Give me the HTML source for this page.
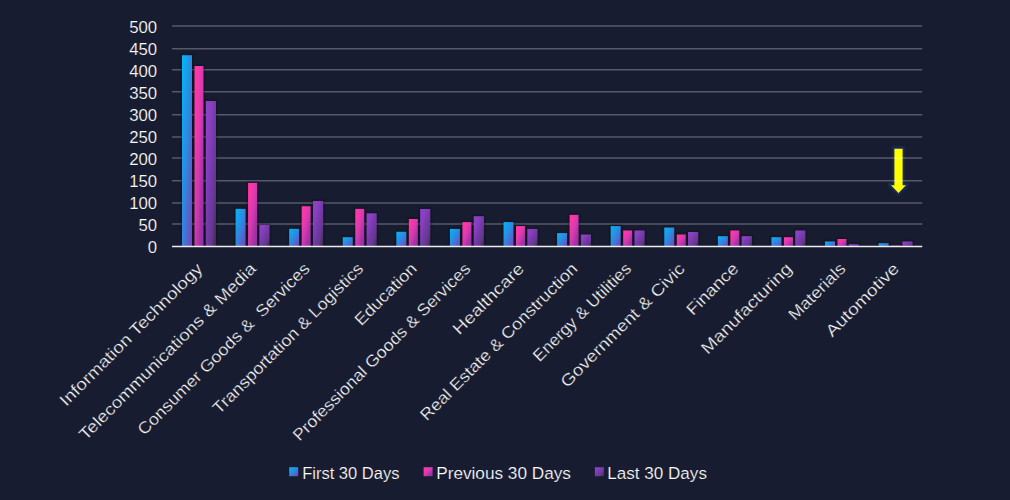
<!DOCTYPE html>
<html><head><meta charset="utf-8"><style>
html,body{margin:0;padding:0;background:#181c30;width:1010px;height:500px;overflow:hidden;font-family:"Liberation Sans",sans-serif;}
</style></head><body>
<svg width="1010" height="500" viewBox="0 0 1010 500" style="position:absolute;left:0;top:0"><defs><linearGradient id="g0" x1="0" y1="0" x2="1" y2="1"><stop offset="0" stop-color="#00b8f8"/><stop offset="0.25" stop-color="#16a0ec"/><stop offset="0.5" stop-color="#3086e0"/><stop offset="0.75" stop-color="#5464cc"/><stop offset="1" stop-color="#7a40c0"/></linearGradient><linearGradient id="g1" x1="0" y1="0" x2="1" y2="1"><stop offset="0" stop-color="#ff38a8"/><stop offset="0.25" stop-color="#f638aa"/><stop offset="0.5" stop-color="#d43ab0"/><stop offset="0.75" stop-color="#a832a6"/><stop offset="1" stop-color="#8c30a8"/></linearGradient><linearGradient id="g2" x1="0" y1="0" x2="1" y2="1"><stop offset="0" stop-color="#8c42c8"/><stop offset="0.25" stop-color="#8a40c0"/><stop offset="0.5" stop-color="#763aac"/><stop offset="0.75" stop-color="#64388e"/><stop offset="1" stop-color="#3a2c50"/></linearGradient><filter id="sh" x="-20%" y="-20%" width="140%" height="140%"><feGaussianBlur stdDeviation="0.9"/></filter></defs><rect width="1010" height="500" fill="#181c30"/><path d="M894.4,148.8 H902.6 V185.3 H905.9 L898.5,193 L891.1,185.3 H894.4 Z" fill="none" stroke="#1d3a70" stroke-opacity="0.4" stroke-width="5" stroke-miterlimit="10" filter="url(#sh)"/><path d="M894.4,148.8 H902.6 V185.3 H905.9 L898.5,193 L891.1,185.3 H894.4 Z" fill="#ffff00" stroke="#1a2f5e" stroke-width="2.6" stroke-miterlimit="10" style="paint-order:stroke"/><line x1="172.0" x2="922.2" y1="224.00" y2="224.00" stroke="#ffffff" stroke-opacity="0.27" stroke-width="1.4"/><line x1="172.0" x2="922.2" y1="203.00" y2="203.00" stroke="#ffffff" stroke-opacity="0.27" stroke-width="1.4"/><line x1="172.0" x2="922.2" y1="180.70" y2="180.70" stroke="#ffffff" stroke-opacity="0.27" stroke-width="1.4"/><line x1="172.0" x2="922.2" y1="158.00" y2="158.00" stroke="#ffffff" stroke-opacity="0.27" stroke-width="1.4"/><line x1="172.0" x2="922.2" y1="137.00" y2="137.00" stroke="#ffffff" stroke-opacity="0.27" stroke-width="1.4"/><line x1="172.0" x2="922.2" y1="114.70" y2="114.70" stroke="#ffffff" stroke-opacity="0.27" stroke-width="1.4"/><line x1="172.0" x2="922.2" y1="91.80" y2="91.80" stroke="#ffffff" stroke-opacity="0.27" stroke-width="1.4"/><line x1="172.0" x2="922.2" y1="69.70" y2="69.70" stroke="#ffffff" stroke-opacity="0.27" stroke-width="1.4"/><line x1="172.0" x2="922.2" y1="48.70" y2="48.70" stroke="#ffffff" stroke-opacity="0.27" stroke-width="1.4"/><line x1="172.0" x2="922.2" y1="26.00" y2="26.00" stroke="#ffffff" stroke-opacity="0.27" stroke-width="1.4"/><text x="157.2" y="253.20" text-anchor="end" font-family="Liberation Sans" font-size="16.8" fill="#ffffff" stroke="#181c30" stroke-width="0.2">0</text><text x="157.2" y="231.19" text-anchor="end" font-family="Liberation Sans" font-size="16.8" fill="#ffffff" stroke="#181c30" stroke-width="0.2">50</text><text x="157.2" y="209.17" text-anchor="end" font-family="Liberation Sans" font-size="16.8" fill="#ffffff" stroke="#181c30" stroke-width="0.2">100</text><text x="157.2" y="187.15" text-anchor="end" font-family="Liberation Sans" font-size="16.8" fill="#ffffff" stroke="#181c30" stroke-width="0.2">150</text><text x="157.2" y="165.14" text-anchor="end" font-family="Liberation Sans" font-size="16.8" fill="#ffffff" stroke="#181c30" stroke-width="0.2">200</text><text x="157.2" y="143.12" text-anchor="end" font-family="Liberation Sans" font-size="16.8" fill="#ffffff" stroke="#181c30" stroke-width="0.2">250</text><text x="157.2" y="121.11" text-anchor="end" font-family="Liberation Sans" font-size="16.8" fill="#ffffff" stroke="#181c30" stroke-width="0.2">300</text><text x="157.2" y="99.09" text-anchor="end" font-family="Liberation Sans" font-size="16.8" fill="#ffffff" stroke="#181c30" stroke-width="0.2">350</text><text x="157.2" y="77.08" text-anchor="end" font-family="Liberation Sans" font-size="16.8" fill="#ffffff" stroke="#181c30" stroke-width="0.2">400</text><text x="157.2" y="55.06" text-anchor="end" font-family="Liberation Sans" font-size="16.8" fill="#ffffff" stroke="#181c30" stroke-width="0.2">450</text><text x="157.2" y="33.05" text-anchor="end" font-family="Liberation Sans" font-size="16.8" fill="#ffffff" stroke="#181c30" stroke-width="0.2">500</text><g fill="#05070d" fill-opacity="0.32" filter="url(#sh)"><rect x="180.79" y="54.01" width="12.4" height="192.29"/><rect x="193.29" y="64.80" width="11.4" height="181.50"/><rect x="204.59" y="99.80" width="12.6" height="146.50"/><rect x="234.38" y="207.67" width="12.4" height="38.63"/><rect x="246.88" y="181.70" width="11.4" height="64.60"/><rect x="258.18" y="223.70" width="12.6" height="22.60"/><rect x="287.96" y="227.62" width="12.4" height="18.68"/><rect x="300.46" y="205.03" width="11.4" height="41.27"/><rect x="311.76" y="199.75" width="12.6" height="46.55"/><rect x="341.55" y="235.99" width="12.4" height="10.31"/><rect x="354.05" y="207.67" width="11.4" height="38.63"/><rect x="365.35" y="212.08" width="12.6" height="34.22"/><rect x="395.14" y="230.57" width="12.4" height="15.73"/><rect x="407.64" y="217.80" width="11.4" height="28.50"/><rect x="418.94" y="207.76" width="12.6" height="38.54"/><rect x="448.72" y="227.71" width="12.4" height="18.59"/><rect x="461.22" y="220.88" width="11.4" height="25.42"/><rect x="472.52" y="214.98" width="12.6" height="31.32"/><rect x="502.31" y="220.88" width="12.4" height="25.42"/><rect x="514.81" y="224.85" width="11.4" height="21.45"/><rect x="526.11" y="227.71" width="12.6" height="18.59"/><rect x="555.89" y="231.89" width="12.4" height="14.41"/><rect x="568.39" y="213.66" width="11.4" height="32.64"/><rect x="579.69" y="233.30" width="12.6" height="13.00"/><rect x="609.48" y="224.89" width="12.4" height="21.41"/><rect x="621.98" y="229.25" width="11.4" height="17.05"/><rect x="633.28" y="229.25" width="12.6" height="17.05"/><rect x="663.06" y="226.30" width="12.4" height="20.00"/><rect x="675.56" y="233.30" width="11.4" height="13.00"/><rect x="686.86" y="230.79" width="12.6" height="15.51"/><rect x="716.65" y="234.97" width="12.4" height="11.33"/><rect x="729.15" y="229.25" width="11.4" height="17.05"/><rect x="740.45" y="234.97" width="12.6" height="11.33"/><rect x="770.24" y="235.99" width="12.4" height="10.31"/><rect x="782.74" y="235.99" width="11.4" height="10.31"/><rect x="794.04" y="229.25" width="12.6" height="17.05"/><rect x="823.82" y="240.26" width="12.4" height="6.04"/><rect x="836.32" y="237.79" width="11.4" height="8.51"/><rect x="847.62" y="242.99" width="12.6" height="3.31"/><rect x="877.41" y="242.02" width="12.4" height="4.28"/><rect x="889.91" y="244.44" width="11.4" height="1.86"/><rect x="901.21" y="240.26" width="12.6" height="6.04"/></g><rect x="181.99" y="55.21" width="10.0" height="191.09" fill="url(#g0)"/><rect x="194.49" y="66.00" width="9.0" height="180.30" fill="url(#g1)"/><rect x="205.79" y="101.00" width="10.2" height="145.30" fill="url(#g2)"/><rect x="235.58" y="208.87" width="10.0" height="37.43" fill="url(#g0)"/><rect x="248.08" y="182.90" width="9.0" height="63.40" fill="url(#g1)"/><rect x="259.38" y="224.90" width="10.2" height="21.40" fill="url(#g2)"/><rect x="289.16" y="228.82" width="10.0" height="17.48" fill="url(#g0)"/><rect x="301.66" y="206.23" width="9.0" height="40.07" fill="url(#g1)"/><rect x="312.96" y="200.95" width="10.2" height="45.35" fill="url(#g2)"/><rect x="342.75" y="237.19" width="10.0" height="9.11" fill="url(#g0)"/><rect x="355.25" y="208.87" width="9.0" height="37.43" fill="url(#g1)"/><rect x="366.55" y="213.28" width="10.2" height="33.02" fill="url(#g2)"/><rect x="396.34" y="231.77" width="10.0" height="14.53" fill="url(#g0)"/><rect x="408.84" y="219.00" width="9.0" height="27.30" fill="url(#g1)"/><rect x="420.14" y="208.96" width="10.2" height="37.34" fill="url(#g2)"/><rect x="449.92" y="228.91" width="10.0" height="17.39" fill="url(#g0)"/><rect x="462.42" y="222.08" width="9.0" height="24.22" fill="url(#g1)"/><rect x="473.72" y="216.18" width="10.2" height="30.12" fill="url(#g2)"/><rect x="503.51" y="222.08" width="10.0" height="24.22" fill="url(#g0)"/><rect x="516.01" y="226.05" width="9.0" height="20.25" fill="url(#g1)"/><rect x="527.31" y="228.91" width="10.2" height="17.39" fill="url(#g2)"/><rect x="557.09" y="233.09" width="10.0" height="13.21" fill="url(#g0)"/><rect x="569.59" y="214.86" width="9.0" height="31.44" fill="url(#g1)"/><rect x="580.89" y="234.50" width="10.2" height="11.80" fill="url(#g2)"/><rect x="610.68" y="226.09" width="10.0" height="20.21" fill="url(#g0)"/><rect x="623.18" y="230.45" width="9.0" height="15.85" fill="url(#g1)"/><rect x="634.48" y="230.45" width="10.2" height="15.85" fill="url(#g2)"/><rect x="664.26" y="227.50" width="10.0" height="18.80" fill="url(#g0)"/><rect x="676.76" y="234.50" width="9.0" height="11.80" fill="url(#g1)"/><rect x="688.06" y="231.99" width="10.2" height="14.31" fill="url(#g2)"/><rect x="717.85" y="236.17" width="10.0" height="10.13" fill="url(#g0)"/><rect x="730.35" y="230.45" width="9.0" height="15.85" fill="url(#g1)"/><rect x="741.65" y="236.17" width="10.2" height="10.13" fill="url(#g2)"/><rect x="771.44" y="237.19" width="10.0" height="9.11" fill="url(#g0)"/><rect x="783.94" y="237.19" width="9.0" height="9.11" fill="url(#g1)"/><rect x="795.24" y="230.45" width="10.2" height="15.85" fill="url(#g2)"/><rect x="825.02" y="241.46" width="10.0" height="4.84" fill="url(#g0)"/><rect x="837.52" y="238.99" width="9.0" height="7.31" fill="url(#g1)"/><rect x="848.82" y="244.19" width="10.2" height="2.11" fill="url(#g2)"/><rect x="878.61" y="243.22" width="10.0" height="3.08" fill="url(#g0)"/><rect x="891.11" y="245.64" width="9.0" height="0.66" fill="url(#g1)"/><rect x="902.41" y="241.46" width="10.2" height="4.84" fill="url(#g2)"/><line x1="172.0" x2="922.2" y1="246.50" y2="246.50" stroke="#eeeeee" stroke-width="1.6"/><g transform="translate(199.29,265.5) rotate(-45) scale(1.14,1)"><text x="0" y="6" text-anchor="end" font-family="Liberation Sans" font-size="16.5" fill="#ffffff" stroke="#181c30" stroke-width="0.3" style="white-space:pre">Information Technology</text></g><g transform="translate(252.88,265.5) rotate(-45) scale(1.13,1)"><text x="0" y="6" text-anchor="end" font-family="Liberation Sans" font-size="16.5" fill="#ffffff" stroke="#181c30" stroke-width="0.3" style="white-space:pre">Telecommunications &amp; Media</text></g><g transform="translate(306.46,265.5) rotate(-45) scale(1.083,1)"><text x="0" y="6" text-anchor="end" font-family="Liberation Sans" font-size="16.5" fill="#ffffff" stroke="#181c30" stroke-width="0.3" style="white-space:pre">Consumer Goods &amp;  Services</text></g><g transform="translate(360.05,265.5) rotate(-45) scale(1.08,1)"><text x="0" y="6" text-anchor="end" font-family="Liberation Sans" font-size="16.5" fill="#ffffff" stroke="#181c30" stroke-width="0.3" style="white-space:pre">Transportation &amp; Logistics</text></g><g transform="translate(413.64,265.5) rotate(-45) scale(1.094,1)"><text x="0" y="6" text-anchor="end" font-family="Liberation Sans" font-size="16.5" fill="#ffffff" stroke="#181c30" stroke-width="0.3" style="white-space:pre">Education</text></g><g transform="translate(467.22,265.5) rotate(-45) scale(1.07,1)"><text x="0" y="6" text-anchor="end" font-family="Liberation Sans" font-size="16.5" fill="#ffffff" stroke="#181c30" stroke-width="0.3" style="white-space:pre">Professional Goods &amp; Services</text></g><g transform="translate(520.81,265.5) rotate(-45) scale(1.165,1)"><text x="0" y="6" text-anchor="end" font-family="Liberation Sans" font-size="16.5" fill="#ffffff" stroke="#181c30" stroke-width="0.3" style="white-space:pre">Healthcare</text></g><g transform="translate(574.39,265.5) rotate(-45) scale(1.085,1)"><text x="0" y="6" text-anchor="end" font-family="Liberation Sans" font-size="16.5" fill="#ffffff" stroke="#181c30" stroke-width="0.3" style="white-space:pre">Real Estate &amp; Construction</text></g><g transform="translate(627.98,265.5) rotate(-45) scale(1.044,1)"><text x="0" y="6" text-anchor="end" font-family="Liberation Sans" font-size="16.5" fill="#ffffff" stroke="#181c30" stroke-width="0.3" style="white-space:pre">Energy &amp; Utilities</text></g><g transform="translate(681.56,265.5) rotate(-45) scale(1.145,1)"><text x="0" y="6" text-anchor="end" font-family="Liberation Sans" font-size="16.5" fill="#ffffff" stroke="#181c30" stroke-width="0.3" style="white-space:pre">Government &amp; Civic</text></g><g transform="translate(735.15,265.5) rotate(-45) scale(1.12,1)"><text x="0" y="6" text-anchor="end" font-family="Liberation Sans" font-size="16.5" fill="#ffffff" stroke="#181c30" stroke-width="0.3" style="white-space:pre">Finance</text></g><g transform="translate(788.74,265.5) rotate(-45) scale(1.154,1)"><text x="0" y="6" text-anchor="end" font-family="Liberation Sans" font-size="16.5" fill="#ffffff" stroke="#181c30" stroke-width="0.3" style="white-space:pre">Manufacturing</text></g><g transform="translate(842.32,265.5) rotate(-45) scale(1.09,1)"><text x="0" y="6" text-anchor="end" font-family="Liberation Sans" font-size="16.5" fill="#ffffff" stroke="#181c30" stroke-width="0.3" style="white-space:pre">Materials</text></g><g transform="translate(895.91,265.5) rotate(-45) scale(1.164,1)"><text x="0" y="6" text-anchor="end" font-family="Liberation Sans" font-size="16.5" fill="#ffffff" stroke="#181c30" stroke-width="0.3" style="white-space:pre">Automotive</text></g><rect x="289.2" y="467.2" width="9" height="9" fill="url(#g0)"/><g transform="translate(302.2,478.8) scale(1.0,1)"><text x="0" y="0" font-family="Liberation Sans" font-size="16.5" fill="#ffffff" stroke="#181c30" stroke-width="0.2">First 30 Days</text></g><rect x="423.6" y="467.2" width="9" height="9" fill="url(#g1)"/><g transform="translate(436.2,478.8) scale(1.043,1)"><text x="0" y="0" font-family="Liberation Sans" font-size="16.5" fill="#ffffff" stroke="#181c30" stroke-width="0.2">Previous 30 Days</text></g><rect x="594.9" y="467.2" width="9" height="9" fill="url(#g2)"/><g transform="translate(607.3,478.8) scale(1.035,1)"><text x="0" y="0" font-family="Liberation Sans" font-size="16.5" fill="#ffffff" stroke="#181c30" stroke-width="0.2">Last 30 Days</text></g></svg>
</body></html>
